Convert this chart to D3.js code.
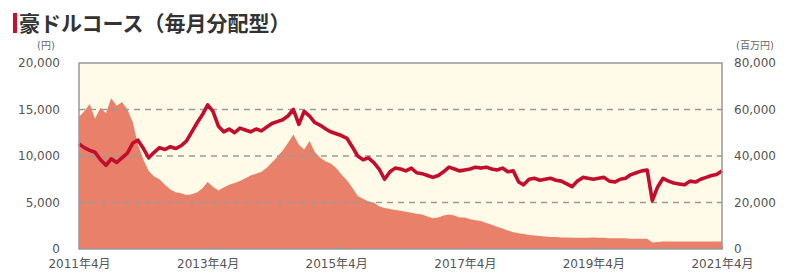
<!DOCTYPE html>
<html>
<head>
<meta charset="utf-8">
<script src="https://cdn.jsdelivr.net/npm/d3@7"></script>
<style>
  body { margin: 0; background: #fff; }
  svg text { font-family: "DejaVu Sans", "Noto Sans CJK JP", sans-serif; }
  .title { font-family: "Noto Sans CJK JP", sans-serif; }
</style>
</head>
<body>
<div id="chart"></div>
<script>
// monthly points, 2011/4 .. 2021/4
var startMonth = new Date(2011, 3, 1);

// 基準価額 (円)
var nav = [
  11300, 10900, 10600, 10400, 9600, 9000, 9700, 9300, 9800, 10300,
  11400, 11700, 10800, 9800, 10400, 10900, 10700, 11000, 10800, 11100,
  11600, 12600, 13600, 14400, 15500, 14800, 13200, 12600, 12900, 12500,
  13000, 12800, 12600, 12900, 12700, 13100, 13500, 13700, 13900, 14300,
  15000, 13400, 14800, 14300, 13600, 13300, 12900, 12600, 12400, 12200,
  11900, 11000, 10000, 9600, 9800, 9300, 8600, 7500, 8300, 8700,
  8600, 8400, 8700, 8200, 8100, 7900, 7700, 7900, 8300, 8800,
  8600, 8400, 8500, 8600, 8800, 8700, 8800, 8600, 8500, 8700,
  8300, 8400, 7200, 6900, 7500, 7600, 7400, 7500, 7600, 7400,
  7300, 7000, 6700, 7300, 7700, 7600, 7500, 7600, 7700, 7300,
  7200, 7500, 7600, 8000, 8200, 8400, 8500, 5200, 6700, 7600,
  7300, 7100, 7000, 6900, 7300, 7200, 7500, 7700, 7900, 8000,
  8400
];

// 純資産総額 (百万円)
var assets = [
  56800, 59200, 62400, 56000, 60800, 58400, 64800, 61600, 63200, 60000,
  54400, 44800, 38400, 33600, 31200, 30000, 27600, 25600, 24400, 24000,
  23200, 23600, 24400, 26000, 28800, 26800, 25200, 26400, 27600, 28400,
  29200, 30400, 31600, 32400, 33200, 34800, 37200, 39600, 42400, 45600,
  49200, 44800, 42800, 46400, 41600, 39200, 37600, 36800, 34800, 32000,
  29600, 26400, 22800, 21600, 20400, 20000, 18400, 17600, 17200, 16800,
  16400, 16000, 15600, 15200, 14800, 14000, 13200, 13600, 14400, 14800,
  14400, 13600, 13600, 12800, 12400, 12000, 11200, 10400, 9600, 8800,
  8000, 7200, 6800, 6400, 6000, 5800, 5600, 5400, 5200, 5200,
  5000, 5000, 4800, 4800, 4800, 4800, 5000, 4800, 4800, 4600,
  4600, 4600, 4600, 4400, 4400, 4400, 4400, 2800, 3000, 3200,
  3200, 3200, 3200, 3200, 3200, 3200, 3200, 3200, 3200, 3200,
  3200
];

var leftTicks = [0, 5000, 10000, 15000, 20000];
var rightTicks = [0, 20000, 40000, 60000, 80000];
var xTickLabels = ["2011年4月", "2013年4月", "2015年4月", "2017年4月", "2019年4月", "2021年4月"];
var title = "豪ドルコース（毎月分配型）";

var W = 787, H = 279;
var margin = { left: 79, right: 65, top: 63, bottom: 30 };
var pw = W - margin.left - margin.right;
var ph = H - margin.top - margin.bottom;

var data = nav.map(function(v, i) {
  return { date: d3.timeMonth.offset(startMonth, i), nav: v, assets: assets[i] };
});

var x = d3.scaleTime()
  .domain([startMonth, d3.timeMonth.offset(startMonth, nav.length - 1)])
  .range([0, pw]);
var yL = d3.scaleLinear().domain([0, 20000]).range([ph, 0]);
var yR = d3.scaleLinear().domain([0, 80000]).range([ph, 0]);

var svg = d3.select("#chart").append("svg")
  .attr("width", W).attr("height", H);

// title
svg.append("rect").attr("x", 13).attr("y", 13).attr("width", 4).attr("height", 20).attr("fill", "#c8102e");
svg.append("text").attr("class", "title").attr("x", 19).attr("y", 31)
  .attr("font-size", 21).attr("font-weight", "bold").attr("fill", "#333")
  .text(title);

var g = svg.append("g").attr("transform", "translate(" + margin.left + "," + margin.top + ")");

g.append("rect").attr("width", pw).attr("height", ph).attr("fill", "#fffbe8");

// area (right axis)
g.append("path").datum(data)
  .attr("fill", "#e8806a")
  .attr("d", d3.area().x(function(d) { return x(d.date); })
    .y0(ph).y1(function(d) { return yR(d.assets); }));

// grid
g.selectAll(".grid").data(leftTicks.filter(function(t) { return t > 0 && t < 20000; }))
  .enter().append("line")
  .attr("x1", 0).attr("x2", pw)
  .attr("y1", function(d) { return yL(d); }).attr("y2", function(d) { return yL(d); })
  .attr("stroke", "#9a9a9a").attr("stroke-width", 1.3).attr("stroke-dasharray", "6,5");

// nav line
g.append("path").datum(data)
  .attr("fill", "none").attr("stroke", "#c30d2c").attr("stroke-width", 3.6)
  .attr("stroke-linejoin", "round")
  .attr("d", d3.line().x(function(d) { return x(d.date); }).y(function(d) { return yL(d.nav); }));

// frame
g.append("rect").attr("width", pw).attr("height", ph)
  .attr("fill", "none").attr("stroke", "#999").attr("stroke-width", 1.5);

// axes
var axisL = d3.axisLeft(yL).tickValues(leftTicks).tickSize(0).tickPadding(19).tickFormat(d3.format(","));
var axisR = d3.axisRight(yR).tickValues(rightTicks).tickSize(0).tickPadding(12).tickFormat(d3.format(","));
var xTickDates = xTickLabels.map(function(s, i) { return d3.timeYear.offset(startMonth, i * 2); });
var axisB = d3.axisBottom(x).tickValues(xTickDates).tickSize(-3).tickPadding(10)
  .tickFormat(function(d, i) { return xTickLabels[i]; });

[g.append("g").call(axisL),
 g.append("g").attr("transform", "translate(" + pw + ",0)").call(axisR),
 g.append("g").attr("transform", "translate(0," + ph + ")").call(axisB)
].forEach(function(a) {
  a.select(".domain").remove();
  a.selectAll("text").attr("fill", "#555").attr("font-size", 12);
  a.selectAll(".tick line").attr("stroke", "#999");
});

svg.append("text").attr("x", 46).attr("y", 49).attr("text-anchor", "middle")
  .attr("font-size", 10).attr("fill", "#666").text("(円)");
svg.append("text").attr("x", 736).attr("y", 49)
  .attr("font-size", 10).attr("fill", "#666").text("(百万円)");
</script>
</body>
</html>
